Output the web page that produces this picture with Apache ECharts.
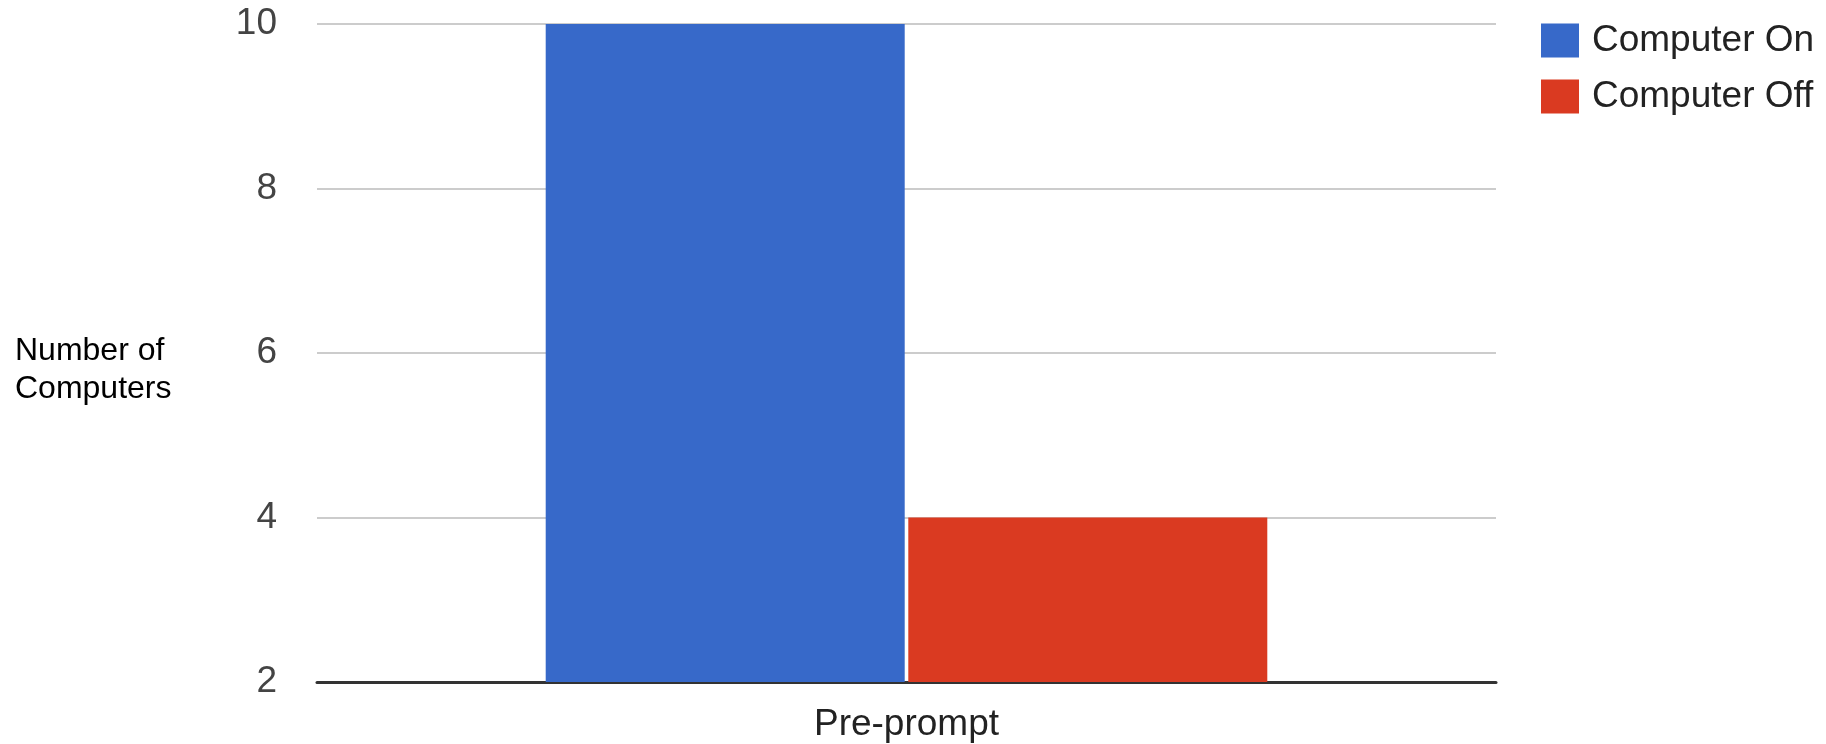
<!DOCTYPE html>
<html>
<head>
<meta charset="utf-8">
<script src="https://cdn.jsdelivr.net/npm/echarts@6/dist/echarts.min.js"></script>
<style>
html,body{margin:0;padding:0;background:#fff;}
#chart{width:1826px;height:744px;}
</style>
</head>
<body>
<div id="chart"></div>
<script>
const categories = ['Pre-prompt'];
const seriesNames = ['Computer On', 'Computer Off'];
const computerOn = [10];
const computerOff = [4];
const yTicks = { min: 2, max: 10, interval: 2 };
const yTitle = 'Number of\nComputers';

const chart = echarts.init(document.getElementById('chart'), null, { renderer: 'canvas' });
const grayFont = 'Liberation Sans, Arial, sans-serif';
chart.setOption({
  animation: false,
  backgroundColor: '#ffffff',
  grid: { left: 317, right: 330, top: 24, bottom: 62, containLabel: false },
  legend: {
    orient: 'vertical',
    left: 1536,
    top: 17,
    itemWidth: 38,
    itemHeight: 34,
    itemGap: 19,
    icon: 'rect',
    textStyle: { fontFamily: grayFont, fontSize: 37, color: '#222222', padding: [0, 0, 0, 8] },
    data: seriesNames
  },
  xAxis: {
    type: 'category',
    data: categories,
    axisLine: { lineStyle: { color: '#333333', width: 3 } },
    axisTick: { show: false },
    axisLabel: { fontFamily: grayFont, fontSize: 37, color: '#222222', margin: 24 }
  },
  yAxis: {
    type: 'value',
    min: yTicks.min,
    max: yTicks.max,
    interval: yTicks.interval,
    axisLine: { show: false },
    axisTick: { show: false },
    axisLabel: { fontFamily: grayFont, fontSize: 37, color: '#444444', margin: 40, padding: [6, 0, 0, 0] },
    splitLine: { lineStyle: { color: '#cccccc', width: 2 } }
  },
  graphic: [{
    type: 'text',
    left: 15,
    top: 332,
    style: {
      text: yTitle,
      fontFamily: 'Liberation Sans, Arial',
      fontSize: 32,
      lineHeight: 38,
      fill: '#000000'
    }
  }],
  series: [
    {
      name: seriesNames[0],
      type: 'bar',
      data: computerOn,
      barWidth: 359,
      barGap: '1%',
      itemStyle: { color: '#3769c9' }
    },
    {
      name: seriesNames[1],
      type: 'bar',
      data: computerOff,
      barWidth: 359,
      barGap: '1%',
      itemStyle: { color: '#da3a21' }
    }
  ]
});
</script>
</body>
</html>
